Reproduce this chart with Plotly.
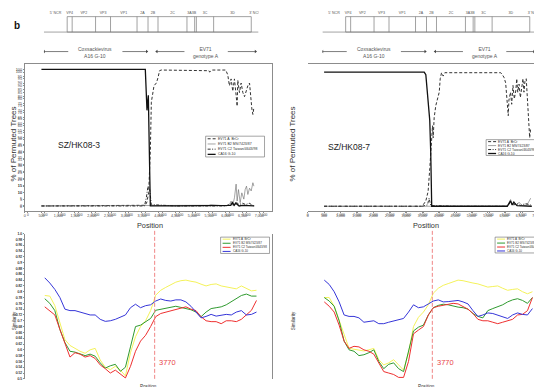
import plotly.graph_objects as go

W, H = 542, 387

# ---------------- genome map (schematic units) ----------------
gene_labels = ["5' NCR", "VP4", "VP2", "VP3", "VP1", "2A", "2B", "2C", "3A3B", "3C", "3D", "3' NCR"]
gene_bounds = [0, 815, 990, 1810, 2335, 3265, 3650, 4000, 5015, 5345, 5950, 7270, 7525]
bound_3a3b = 5285
region_labels = ["Coxsackievirus<br>A16 G-10", "EV71<br>genotype A"]
region_starts = [0, 3955]
region_ends = [3605, 7420]

series_names = ["EV71 A  BrCr", "EV71 B2 MS/7423/87", "EV71 C2 Taiwan/4643/98", "CA16 G-10"]

# ---------------- bootscan SZ/HK08-3 ----------------
bl_a_x = [500, 1500, 2500, 3500, 3600, 3650, 3700, 3750, 3780, 3860, 3930, 3980, 4025, 4075, 4500, 5000,
          5500, 5520, 5600, 6000, 6010, 6060, 6110, 6160, 6210, 6260, 6310, 6340, 6360, 6410, 6460, 6510,
          6560, 6610, 6660, 6710, 6740, 6780, 6810, 6840]
bl_a_y = [0, 0, 0, 0, 0.5, 3, 10, 40, 76, 88, 90, 94, 99, 99.5, 99.5, 99.5,
          99, 98, 99.5, 99.5, 99, 96, 88, 93, 84, 93, 81, 73, 92, 83, 90, 83,
          80, 84, 88, 90, 81, 71, 67, 72]
bl_b2_x = [500, 2000, 3500, 4000, 5000, 5500, 5550, 6000, 6110, 6160, 6210, 6260, 6310, 6340, 6380, 6430,
           6480, 6540, 6580, 6620, 6660, 6710, 6760, 6810, 6840]
bl_b2_y = [0, 0, 0, 0, 0, 0.5, 1, 0, 1, 3.6, 0.5, 6, 16, 3.6, 12, 2.4,
           9.6, 5, 12, 14.5, 8.4, 13, 11, 17, 14.5]
bl_c2_x = [500, 2000, 3500, 3575, 3630, 3680, 3730, 3780, 4500, 5500, 6000, 6200, 6250, 6300, 6400, 6500,
           6600, 6700, 6840]
bl_c2_y = [0, 0, 0, 0, 6, 14.5, 12, 1, 0, 0, 0, 2, 0.5, 3, 1, 2,
           1, 2, 0]
bl_ca_x = [500, 1500, 2500, 3500, 3600, 3650, 3690, 3720, 3750, 4500, 5500, 6000, 6150, 6200, 6250, 6300,
           6400, 6500, 6700, 6850]
bl_ca_y = [100, 100, 100, 100, 100, 70, 81, 40, 0, 0, 0, 0, 0.5, 2.5, 0.5, 2,
           0, 0.5, 0, 0]

# ---------------- bootscan SZ/HK08-7 ----------------
br_a_x = [500, 1500, 2500, 3500, 3610, 3680, 3730, 3760, 3790, 3815, 3835, 3865, 3915, 3970, 4020, 4050,
          4090, 4140, 4190, 4500, 5000, 5500, 5900, 5950, 6000, 6050, 6080, 6110, 6130, 6150, 6200, 6235,
          6275, 6315, 6360, 6390, 6420, 6460, 6500, 6540, 6580, 6610, 6640, 6680, 6715, 6745, 6785, 6815]
br_a_y = [0, 0, 0, 0, 4, 11, 28, 40, 50, 60, 51, 66, 75, 80, 85, 95,
          99.5, 97, 99.5, 99.5, 99.5, 99.5, 99.5, 98, 96, 92, 82, 75, 67.5, 79, 85, 76,
          90, 80, 86, 95, 85, 91, 81, 88, 95, 85, 93, 95, 82, 66, 51, 58]
br_b2_x = [500, 2000, 3500, 4500, 5500, 6100, 6150, 6200, 6255, 6300, 6380, 6460, 6550, 6700, 6765, 6815]
br_b2_y = [0, 0, 0, 0, 0, 0, 2.5, 5, 1, 3.7, 0.5, 3, 0.5, 1, 3.7, 6]
br_c2_x = [500, 2000, 3500, 3660, 3710, 3760, 4500, 5500, 6100, 6200, 6300, 6400, 6500, 6650, 6815]
br_c2_y = [0, 0, 0, 1, 6, 0.5, 0, 0, 0, 3, 1, 2, 0.5, 2, 1]
br_ca_x = [500, 1500, 2500, 3560, 3610, 3660, 3700, 3730, 3760, 3790, 4500, 5500, 6100, 6150, 6200, 6250,
           6300, 6400, 6600, 6850]
br_ca_y = [100, 100, 100, 100, 98, 82, 68, 64, 40, 0, 0, 0, 0, 2, 4, 1,
           3, 0.5, 0.5, 0]

# ---------------- similarity plots ----------------
sim_pos = [500, 650, 800, 950, 1100, 1250, 1400, 1550, 1700, 1850, 2000,
           2150, 2300, 2450, 2600, 2750, 2900, 3050, 3200, 3350, 3500,
           3650, 3800, 3950, 4100, 4250, 4400, 4550, 4700, 4850, 5000,
           5150, 5300, 5450, 5600, 5750, 5900, 6050, 6200, 6350, 6500,
           6650, 6800]
sl_a = [0.787, 0.785, 0.752, 0.69, 0.635, 0.615, 0.605, 0.595, 0.588, 0.60, 0.605,
        0.565, 0.54, 0.532, 0.543, 0.53, 0.51, 0.59, 0.645, 0.68, 0.70,
        0.735, 0.788, 0.805, 0.815, 0.825, 0.833, 0.838, 0.84, 0.836, 0.833,
        0.826, 0.82, 0.825, 0.827, 0.82, 0.816, 0.812, 0.81, 0.82, 0.812,
        0.803, 0.805]
sl_b2 = [0.776, 0.76, 0.735, 0.67, 0.625, 0.595, 0.592, 0.585, 0.58, 0.585, 0.578,
         0.555, 0.537, 0.545, 0.55, 0.526, 0.54, 0.61, 0.68, 0.685, 0.695,
         0.708, 0.736, 0.74, 0.742, 0.748, 0.75, 0.746, 0.742, 0.738, 0.73,
         0.714, 0.73, 0.742, 0.745, 0.748, 0.755, 0.765, 0.775, 0.787, 0.792,
         0.785, 0.785]
sl_c2 = [0.748, 0.735, 0.72, 0.67, 0.625, 0.575, 0.59, 0.585, 0.575, 0.58, 0.57,
         0.548, 0.535, 0.52, 0.53, 0.515, 0.503, 0.543, 0.595, 0.63, 0.65,
         0.68, 0.714, 0.725, 0.73, 0.735, 0.738, 0.745, 0.748, 0.74, 0.735,
         0.714, 0.70, 0.697, 0.697, 0.69, 0.70, 0.70, 0.697, 0.705, 0.72,
         0.736, 0.77]
sl_ca = [0.848, 0.83, 0.808, 0.78, 0.74, 0.735, 0.735, 0.73, 0.725, 0.72, 0.72,
         0.705, 0.698, 0.70, 0.705, 0.712, 0.72, 0.745, 0.757, 0.745, 0.752,
         0.755, 0.768, 0.775, 0.77, 0.768, 0.772, 0.772, 0.765, 0.75, 0.73,
         0.71, 0.715, 0.722, 0.716, 0.72, 0.722, 0.72, 0.73, 0.735, 0.72,
         0.722, 0.73]
sr_a = [0.78, 0.78, 0.75, 0.70, 0.65, 0.605, 0.602, 0.60, 0.596, 0.60, 0.605,
        0.566, 0.548, 0.555, 0.566, 0.548, 0.53, 0.59, 0.68, 0.712, 0.73,
        0.755, 0.795, 0.812, 0.822, 0.828, 0.835, 0.84, 0.838, 0.833, 0.83,
        0.827, 0.822, 0.816, 0.818, 0.82, 0.812, 0.805, 0.808, 0.81, 0.80,
        0.793, 0.80]
sr_b2 = [0.78, 0.768, 0.75, 0.70, 0.63, 0.60, 0.595, 0.58, 0.583, 0.59, 0.60,
         0.56, 0.535, 0.55, 0.555, 0.535, 0.525, 0.59, 0.665, 0.678, 0.685,
         0.72, 0.745, 0.753, 0.757, 0.755, 0.75, 0.747, 0.745, 0.74, 0.725,
         0.715, 0.71, 0.735, 0.742, 0.748, 0.755, 0.765, 0.772, 0.776, 0.77,
         0.76, 0.78]
sr_c2 = [0.765, 0.75, 0.73, 0.685, 0.63, 0.605, 0.612, 0.61, 0.60, 0.595, 0.585,
         0.555, 0.525, 0.52, 0.515, 0.505, 0.505, 0.56, 0.655, 0.668, 0.68,
         0.72, 0.745, 0.75, 0.753, 0.757, 0.76, 0.758, 0.748, 0.74, 0.725,
         0.705, 0.70, 0.70, 0.695, 0.69, 0.695, 0.70, 0.705, 0.72, 0.722,
         0.735, 0.78]
sr_ca = [0.84, 0.825, 0.80, 0.765, 0.72, 0.715, 0.715, 0.71, 0.695, 0.698, 0.70,
         0.69, 0.69, 0.695, 0.70, 0.705, 0.708, 0.73, 0.755, 0.745, 0.748,
         0.758, 0.768, 0.772, 0.765, 0.766, 0.768, 0.77, 0.765, 0.758, 0.735,
         0.715, 0.72, 0.727, 0.725, 0.72, 0.715, 0.708, 0.72, 0.727, 0.722,
         0.72, 0.742]
breakpoint_pos = 3770
sample_names = ["SZ/HK08-3", "SZ/HK08-7"]

pos_tick_vals = [0, 500, 1000, 1500, 2000, 2500, 3000, 3500, 4000, 4500, 5000, 5500, 6000, 6500, 7000]
pos_tick_text = ["0", "500", "1,000", "1,500", "2,000", "2,500", "3,000", "3,500", "4,000",
                 "4,500", "5,000", "5,500", "6,000", "6,500", "7,000"]
sim_tick_vals = [0.5, 0.52, 0.54, 0.56, 0.58, 0.6, 0.62, 0.64, 0.66, 0.68, 0.7, 0.72, 0.74,
                 0.76, 0.78, 0.8, 0.82, 0.84, 0.86, 0.88, 0.9, 0.92, 0.94, 0.96, 0.98, 1.0]
sim_tick_text = ["0.5", "0.52", "0.54", "0.56", "0.58", "0.6", "0.62", "0.64", "0.66", "0.68", "0.7",
                 "0.72", "0.74", "0.76", "0.78", "0.8", "0.82", "0.84", "0.86", "0.88", "0.9",
                 "0.92", "0.94", "0.96", "0.98", "1.0"]

# ---------------- styles ----------------
FONT = "Liberation Sans, Arial, sans-serif"
boot_styles = [dict(color="#333333", width=1, dash="3px,2px"),
               dict(color="#666666", width=0.6),
               dict(color="#333333", width=1, dash="3px,1.5px,1px,1.5px"),
               dict(color="#111111", width=1.3)]
sim_styles = [dict(color="#f4f25a", width=1),
              dict(color="#2f9a2f", width=1),
              dict(color="#ee3030", width=1),
              dict(color="#3636d8", width=1)]


def px2x(p):
    return p / W


def px2y(p):
    return 1 - p / H


fig = go.Figure()

# bootscan traces
boot_sets = [
    ("x", "y", [(bl_a_x, bl_a_y), (bl_b2_x, bl_b2_y), (bl_c2_x, bl_c2_y), (bl_ca_x, bl_ca_y)]),
    ("x2", "y2", [(br_a_x, br_a_y), (br_b2_x, br_b2_y), (br_c2_x, br_c2_y), (br_ca_x, br_ca_y)]),
]
for xa, ya, sets in boot_sets:
    for name, (xs, ys), st in zip(series_names, sets, boot_styles):
        fig.add_trace(go.Scatter(x=xs, y=ys, mode="lines", name=name, line=st,
                                 xaxis=xa, yaxis=ya, showlegend=False))

sim_sets = [("x3", "y3", [sl_a, sl_b2, sl_c2, sl_ca]), ("x4", "y4", [sr_a, sr_b2, sr_c2, sr_ca])]
for xa, ya, sets in sim_sets:
    for name, ys, st in zip(series_names, sets, sim_styles):
        fig.add_trace(go.Scatter(x=sim_pos, y=ys, mode="lines", name=name, line=st,
                                 xaxis=xa, yaxis=ya, showlegend=False))

# genome map: labels and region arrows
label_pos = [(a + b) / 2 for a, b in zip(gene_bounds[:-1], gene_bounds[1:])]
gaps = [950, 760]
arrow_x, arrow_y, tip_x, tip_sym = [], [], [], []
for s, e, g in zip(region_starts, region_ends, gaps):
    mid = (s + e) / 2
    arrow_x += [s, mid - g, None, mid + g, e, None]
    arrow_y += [42, 42, None, 42, 42, None]
    tip_x += [s, e]
    tip_sym += ["triangle-left", "triangle-right"]
for xa, ya in [("x5", "y5"), ("x6", "y6")]:
    fig.add_trace(go.Scatter(x=label_pos, y=[3] * len(label_pos), mode="text", text=gene_labels,
                             textfont=dict(size=3.6, color="#555", family=FONT), xaxis=xa, yaxis=ya,
                             showlegend=False, hoverinfo="skip"))
    fig.add_trace(go.Scatter(x=arrow_x, y=arrow_y, mode="lines", line=dict(color="#444", width=0.7),
                             xaxis=xa, yaxis=ya, showlegend=False, hoverinfo="skip"))
    fig.add_trace(go.Scatter(x=tip_x, y=[42] * len(tip_x), mode="markers",
                             marker=dict(symbol=tip_sym, size=3, color="#444", line=dict(width=0)),
                             xaxis=xa, yaxis=ya, showlegend=False, hoverinfo="skip"))


def frame_axis(domain, rng, **kw):
    d = dict(domain=domain, range=rng, showline=True, mirror=True, linecolor="#8c8c8c", linewidth=0.8,
             ticks="outside", ticklen=1, tickcolor="#8c8c8c", tickwidth=0.6, showgrid=False,
             zeroline=False, tickfont=dict(size=3.8, color="#444", family=FONT))
    d.update(kw)
    return d


boot_y_common = dict(tickmode="linear", tick0=0, dtick=5)
small_tick = dict(size=3.3, color="#444", family=FONT)
top_x_tick = dict(size=3.6, color="#444", family=FONT)
layout = dict(
    width=W, height=H, margin=dict(l=0, r=0, t=0, b=0),
    paper_bgcolor="white", plot_bgcolor="white", showlegend=False,
    font=dict(family=FONT, color="#333"),
    xaxis=frame_axis([15.7 / W, 263.3 / W], [0, 7375], tickvals=pos_tick_vals, ticktext=pos_tick_text,
                     tickfont=top_x_tick),
    yaxis=frame_axis([px2y(202.7), px2y(55)], [-3.4, 103.6], **boot_y_common),
    xaxis2=frame_axis([299.3 / W, 537.7 / W], [0, 7275], tickvals=pos_tick_vals, ticktext=pos_tick_text,
                      tickfont=top_x_tick),
    yaxis2=frame_axis([px2y(201.7), px2y(59.3)], [-2.5, 102.5], **boot_y_common),
    xaxis3=frame_axis([19 / W, 263.3 / W], [0, 7256], tickvals=pos_tick_vals, ticktext=pos_tick_text,
                      tickfont=small_tick),
    yaxis3=frame_axis([px2y(372.7), px2y(226)], [0.5, 1.0], tickvals=sim_tick_vals, ticktext=sim_tick_text,
                      tickfont=small_tick),
    xaxis4=frame_axis([299.3 / W, 539.3 / W], [0, 7250], tickvals=pos_tick_vals, ticktext=pos_tick_text,
                      tickfont=small_tick),
    yaxis4=frame_axis([px2y(372.7), px2y(226)], [0.5, 1.0], tickvals=sim_tick_vals, ticktext=sim_tick_text,
                      tickfont=small_tick),
    xaxis5=dict(domain=[35 / W, 250 / W], range=[0, 7525], visible=False),
    yaxis5=dict(domain=[px2y(50), 1], range=[50, 0], visible=False),
    xaxis6=dict(domain=[314 / W, 529 / W], range=[0, 7525], visible=False),
    yaxis6=dict(domain=[px2y(50), 1], range=[50, 0], visible=False),
)
fig.update_layout(**layout)

shapes = []
annotations = []

# axis titles (placed as annotations for exact positioning)
axis_titles = [
    ("Position", 141, 218, 0, 7.3), ("Position", 418, 218, 0, 7.3),
    ("% of Permuted Trees", 5, 135, -90, 8), ("% of Permuted Trees", 284.5, 135, -90, 8),
    ("Position", 140, 380.3, 0, 4.6), ("Position", 418, 380.3, 0, 4.6),
    ("Similarity", 5.5, 314, -90, 4.6), ("Similarity", 285, 314, -90, 4.6),
]
for txt, xp, yp, ang, fs in axis_titles:
    annotations.append(dict(xref="paper", yref="paper", x=px2x(xp), y=px2y(yp), text=txt,
                            textangle=ang, showarrow=False, xanchor="center", yanchor="middle",
                            borderpad=0, font=dict(size=fs, color="#333", family=FONT)))

# genome maps
for xr, yr in [("x5", "y5"), ("x6", "y6")]:
    mc = dict(color="#7a7a7a", width=0.7)
    shapes.append(dict(type="line", xref=xr, yref=yr, x0=gene_bounds[0], x1=gene_bounds[-1],
                       y0=22.3, y1=22.3, line=mc))
    shapes.append(dict(type="rect", xref=xr, yref=yr, x0=gene_bounds[1], x1=gene_bounds[-2],
                       y0=6.7, y1=22.3, line=mc))
    for b in gene_bounds[2:-2] + [bound_3a3b]:
        shapes.append(dict(type="line", xref=xr, yref=yr, x0=b, x1=b, y0=6.7, y1=22.3, line=mc))
    for lab, s, e in zip(region_labels, region_starts, region_ends):
        annotations.append(dict(xref=xr, yref=yr, x=(s + e) / 2, y=42.5, text=lab, showarrow=False,
                                font=dict(size=5, color="#555", family=FONT), align="center"))

# sample names
for (xr, yr), nm, xp in zip([("x", "y"), ("x2", "y2")], sample_names, [1620, 1272]):
    annotations.append(dict(xref=xr, yref=yr, x=xp, y=44.5, text=nm, showarrow=False,
                            font=dict(size=8.5, color="#222", family=FONT)))

# breakpoint marker
for xr, yr in [("x3", "y3"), ("x4", "y4")]:
    shapes.append(dict(type="line", xref=xr, yref=yr + " domain", x0=breakpoint_pos, x1=breakpoint_pos,
                       y0=0, y1=1.02, line=dict(color="#f08585", width=1, dash="4px,2px")))
    annotations.append(dict(xref=xr, yref=yr, x=breakpoint_pos + 80, y=0.555, text=str(breakpoint_pos),
                            xanchor="left", showarrow=False,
                            font=dict(size=7.5, color="#e8464a", family=FONT)))

# panel letter
annotations.append(dict(xref="paper", yref="paper", x=px2x(3), y=px2y(8), text="<b>b</b>",
                        xanchor="left", showarrow=False, font=dict(size=10, color="#111", family=FONT)))


def add_legend(box, styles, text_size, line_len):
    x0, y0, x1, y1 = box
    shapes.append(dict(type="rect", xref="paper", yref="paper", x0=px2x(x0), x1=px2x(x1),
                       y0=px2y(y0), y1=px2y(y1), line=dict(color="#666", width=0.6),
                       fillcolor="white", layer="above"))
    n = len(series_names)
    step = (y1 - y0) / n
    for i, (nm, st) in enumerate(zip(series_names, styles)):
        yc = y0 + step * (i + 0.5)
        shapes.append(dict(type="line", xref="paper", yref="paper", x0=px2x(x0 + 2),
                           x1=px2x(x0 + 2 + line_len), y0=px2y(yc), y1=px2y(yc), line=st, layer="above"))
        annotations.append(dict(xref="paper", yref="paper", x=px2x(x0 + 3 + line_len), y=px2y(yc),
                                text=nm, xanchor="left", yanchor="middle", showarrow=False, borderpad=0,
                                font=dict(size=text_size, color="#333", family=FONT)))


add_legend((197, 127.5, 256, 148.5), boot_styles, 3.5, 8)
add_legend((478, 131, 535, 147), boot_styles, 3.3, 8)
add_legend((212, 229.5, 261, 246), sim_styles, 3.0, 8)
add_legend((487, 229.5, 537, 245.5), sim_styles, 3.0, 8)

fig.update_layout(shapes=shapes, annotations=annotations)
fig.write_html("out.html")
